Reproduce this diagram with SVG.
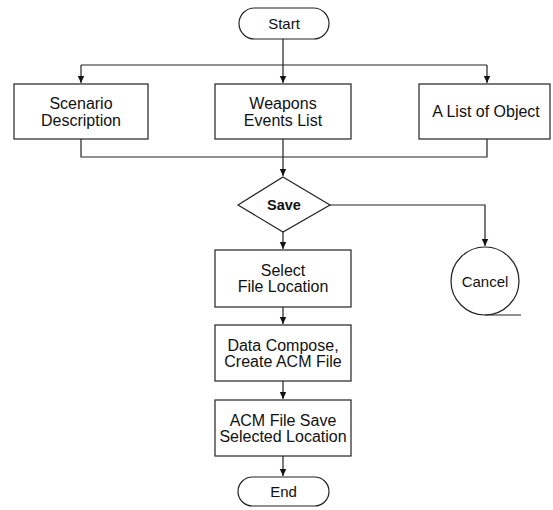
<svg xmlns="http://www.w3.org/2000/svg" width="553" height="510" viewBox="0 0 553 510">
<defs>
<marker id="ah" markerWidth="8" markerHeight="8" refX="7" refY="4" orient="auto" markerUnits="userSpaceOnUse">
<path d="M0,0.8 L7,4 L0,7.2 Z" fill="#111"/>
</marker>
<style>
.shape{fill:#fff;stroke:#222;stroke-width:1.2}
.conn{fill:none;stroke:#222;stroke-width:1.2}
.t{font-family:"Liberation Sans",Arial,sans-serif;font-size:16px;fill:#111;text-anchor:middle;dominant-baseline:central}
.s{font-size:15px}
.b{font-weight:bold;font-size:14.5px}
</style>
</defs>
<rect width="553" height="510" fill="#fff"/>
<g id="connectors">
<path class="conn" d="M283,39 V83" marker-end="url(#ah)"/>
<path class="conn" d="M81,65 H487"/>
<path class="conn" d="M81,65 V83" marker-end="url(#ah)"/>
<path class="conn" d="M487,65 V83" marker-end="url(#ah)"/>
<path class="conn" d="M81,139 V157 H487 V139"/>
<path class="conn" d="M283,139 V176" marker-end="url(#ah)"/>
<path class="conn" d="M283,232 V249" marker-end="url(#ah)"/>
<path class="conn" d="M330,205 H485 V246" marker-end="url(#ah)"/>
<path class="conn" d="M283,307 V324" marker-end="url(#ah)"/>
<path class="conn" d="M283,381 V399" marker-end="url(#ah)"/>
<path class="conn" d="M283,456 V476" marker-end="url(#ah)"/>
</g>
<g id="start">
<rect class="shape" x="239" y="8" width="90" height="31" rx="15.5"/>
<text class="t s" x="284" y="23.5">Start</text>
</g>
<g id="scenario">
<rect class="shape" x="14" y="84" width="134" height="55"/>
<text class="t" x="81" y="103">Scenario</text>
<text class="t" x="81" y="120">Description</text>
</g>
<g id="weapons">
<rect class="shape" x="215" y="84" width="136" height="55"/>
<text class="t" x="283" y="103">Weapons</text>
<text class="t" x="283" y="120">Events List</text>
</g>
<g id="objects">
<rect class="shape" x="419" y="84" width="131" height="55"/>
<text class="t" x="486" y="111.5">A List of Object</text>
</g>
<g id="save">
<polygon class="shape" points="283,177 330,205 283,232 238,205"/>
<text class="t b" x="284" y="205">Save</text>
</g>
<g id="cancel">
<circle class="shape" cx="485" cy="281" r="34"/>
<path class="conn" d="M485,315 H521"/>
<text class="t s" x="485" y="281">Cancel</text>
</g>
<g id="select">
<rect class="shape" x="215" y="250" width="136" height="57"/>
<text class="t" x="283" y="270">Select</text>
<text class="t" x="283" y="286">File Location</text>
</g>
<g id="compose">
<rect class="shape" x="215" y="325" width="136" height="56"/>
<text class="t" x="283" y="345">Data Compose,</text>
<text class="t" x="283" y="361">Create ACM File</text>
</g>
<g id="acmsave">
<rect class="shape" x="215" y="400" width="136" height="56"/>
<text class="t" x="283" y="420">ACM File Save</text>
<text class="t" x="283" y="436">Selected Location</text>
</g>
<g id="end">
<rect class="shape" x="238" y="477" width="91" height="29" rx="14.5"/>
<text class="t s" x="283.5" y="491.5">End</text>
</g>
</svg>
